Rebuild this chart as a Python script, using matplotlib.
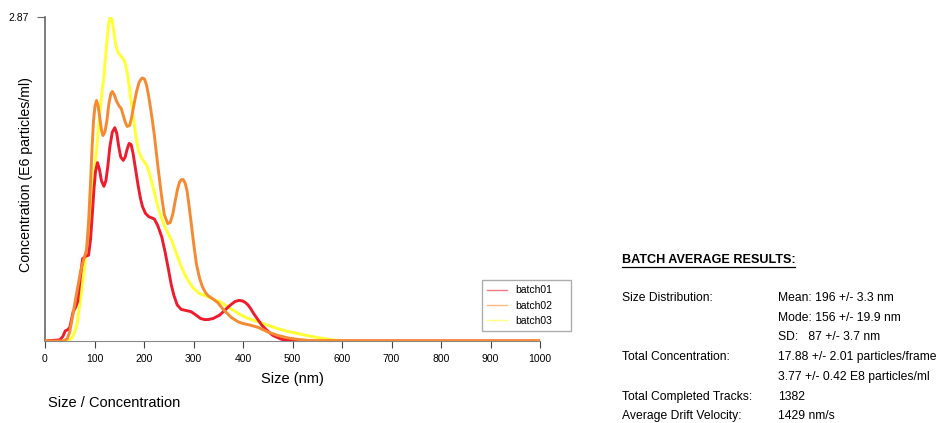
import matplotlib
matplotlib.use("Agg")
import matplotlib.pyplot as plt
from matplotlib.lines import Line2D

plt.rcParams['font.family'] = ['Liberation Sans', 'DejaVu Sans']

# size (nm) / concentration (E6 particles/ml)
size01 = [0, 30, 36, 41, 46, 50, 57, 62, 66, 71, 76, 82, 88, 92, 96, 99, 102, 106, 110, 114, 119, 123, 127, 131,
          136, 141, 145, 149, 153, 158, 162, 166, 170, 174, 178, 183, 188, 193, 197, 203, 210, 216, 221, 228, 236,
          243, 250, 255, 260, 267, 275, 285, 295, 305, 314, 322, 330, 340, 353, 365, 375, 384, 392, 399, 405, 410,
          415, 422, 430, 438, 447, 460, 478, 495, 509, 600, 1000]
conc01 = [0, 0.01, 0.04, 0.09, 0.10, 0.12, 0.26, 0.30, 0.35, 0.55, 0.73, 0.75, 0.76, 0.90, 1.15, 1.35, 1.50,
          1.58, 1.52, 1.42, 1.37, 1.42, 1.55, 1.72, 1.85, 1.89, 1.84, 1.72, 1.63, 1.60, 1.63, 1.70, 1.75, 1.74,
          1.66, 1.52, 1.38, 1.26, 1.19, 1.13, 1.10, 1.09, 1.08, 1.02, 0.92, 0.78, 0.62, 0.50, 0.41, 0.32, 0.28,
          0.27, 0.26, 0.23, 0.20, 0.19, 0.19, 0.20, 0.23, 0.28, 0.32, 0.35, 0.36, 0.355, 0.34, 0.32, 0.29, 0.24,
          0.19, 0.14, 0.10, 0.05, 0.015, 0.004, 0.0, 0, 0]

size02 = [0, 37, 45, 50, 57, 65, 72, 78, 84, 88, 92, 95, 98, 101, 104, 107, 110, 114, 117, 121, 125, 129, 133,
          136, 140, 145, 150, 154, 158, 162, 166, 171, 175, 180, 185, 190, 194, 197, 201, 205, 209, 213, 217, 221,
          228, 235, 241, 248, 253, 258, 263, 268, 272, 276, 279, 283, 287, 291, 296, 301, 306, 312, 318, 324, 330,
          340, 349, 360, 376, 390, 400, 415, 431, 450, 470, 490, 509, 530, 560, 1000]
conc02 = [0, 0.0, 0.02, 0.08, 0.25, 0.45, 0.62, 0.72, 0.81, 1.05, 1.40, 1.70, 1.95, 2.08, 2.13, 2.09, 2.00,
          1.87, 1.82, 1.85, 1.95, 2.10, 2.19, 2.21, 2.18, 2.12, 2.08, 2.06, 2.00, 1.94, 1.90, 1.91, 1.98, 2.10,
          2.21, 2.29, 2.32, 2.33, 2.32, 2.27, 2.18, 2.07, 1.95, 1.82, 1.55, 1.30, 1.12, 1.04, 1.05, 1.12, 1.24,
          1.35, 1.41, 1.43, 1.43, 1.40, 1.33, 1.20, 1.02, 0.84, 0.68, 0.56, 0.48, 0.43, 0.40, 0.37, 0.34, 0.28,
          0.21, 0.17, 0.155, 0.14, 0.12, 0.08, 0.05, 0.028, 0.015, 0.006, 0, 0]

size03 = [0, 45, 50, 55, 60, 65, 72, 80, 86, 92, 98, 104, 110, 115, 119, 123, 126, 129, 131, 133, 135, 137, 140,
          143, 147, 152, 158, 162, 166, 170, 174, 179, 184, 189, 195, 200, 205, 212, 220, 228, 240, 256, 265, 275,
          287, 299, 312, 330, 345, 353, 370, 392, 410, 431, 450, 470, 490, 509, 530, 548, 575, 602, 1000]
conc03 = [0, 0.0, 0.01, 0.03, 0.08, 0.16, 0.38, 0.66, 0.90, 1.15, 1.42, 1.69, 1.98, 2.20, 2.34, 2.55, 2.70,
          2.82, 2.86, 2.87, 2.85, 2.80, 2.71, 2.62, 2.56, 2.53, 2.50, 2.46, 2.38, 2.26, 2.13, 1.96, 1.80, 1.68,
          1.62, 1.59, 1.56, 1.47, 1.33, 1.19, 1.03, 0.89, 0.78, 0.66, 0.55, 0.47, 0.42, 0.39, 0.36, 0.35, 0.30,
          0.24, 0.20, 0.17, 0.14, 0.11, 0.085, 0.068, 0.048, 0.032, 0.014, 0.0, 0]

labels = ['batch01', 'batch02', 'batch03']
colors = ['#ee1c2e', '#f58a32', '#ffff33']
xticks = list(range(0, 1001, 100))
ymax = 2.87

fig = plt.figure(figsize=(9.44, 4.23), dpi=100)
ax = fig.add_axes([45 / 944, 1 - 341 / 423, 495 / 944, 324 / 423])

ax.plot(size03, conc03, color=colors[2], lw=2.1, solid_joinstyle='round', zorder=3)
ax.plot(size01, conc01, color=colors[0], lw=2.1, solid_joinstyle='round', zorder=4)
ax.plot(size02, conc02, color=colors[1], lw=2.1, solid_joinstyle='round', zorder=5)

ax.set_xlim(0, 1000)
ax.set_ylim(0, ymax)
for s in ['top', 'right']:
    ax.spines[s].set_visible(False)
ax.spines['left'].set_color('#666666')
ax.spines['bottom'].set_color('#888888')
ax.spines['left'].set_linewidth(1.2)
ax.set_xticks(xticks)
ax.set_xticklabels([str(t) for t in xticks], fontsize=7.5)
ax.set_yticks([ymax])
ax.set_yticklabels(['2.87'], fontsize=7.5)
ax.tick_params(axis='x', length=5, color='#444444', pad=4)
ax.tick_params(axis='y', length=6, color='#666666', pad=6)
ax.set_xlabel('Size (nm)', fontsize=10.5, labelpad=6)
ax.set_ylabel('Concentration (E6 particles/ml)', fontsize=10.2)
ax.yaxis.set_label_coords(-12 / 495, 166 / 324)

handles = [Line2D([], [], color=c, lw=1, alpha=0.6) for c in colors]
leg = ax.legend(handles, labels, loc='lower left', bbox_to_anchor=(437 / 495, 10 / 324, 89 / 495, 55 / 324),
                mode='expand', fontsize=7.5, frameon=True, fancybox=False, handlelength=1.9,
                handletextpad=0.8, labelspacing=0.5, borderpad=0.5, borderaxespad=0)
leg.get_frame().set_edgecolor('#999999')
leg.get_frame().set_linewidth(1)

fig.text(48 / 944, 1 - 403 / 423, 'Size / Concentration', fontsize=10.5, va='center')

fs = 8.7
fig.text(622 / 944, 1 - 260 / 423, 'BATCH AVERAGE RESULTS:', fontsize=9.1, fontweight='bold', va='center')
fig.add_artist(Line2D([622 / 944, 795 / 944], [1 - 267 / 423] * 2, color='black', lw=0.9))

rows = [
    ('Size Distribution:', 'Mean: 196 +/- 3.3 nm'),
    ('', 'Mode: 156 +/- 19.9 nm'),
    ('', 'SD:   87 +/- 3.7 nm'),
    ('Total Concentration:', '17.88 +/- 2.01 particles/frame'),
    ('', '3.77 +/- 0.42 E8 particles/ml'),
    ('Total Completed Tracks:', '1382'),
    ('Average Drift Velocity:', '1429 nm/s'),
]
for i, (k, v) in enumerate(rows):
    y = 1 - (298 + i * 19.7) / 423
    if k:
        fig.text(622 / 944, y, k, fontsize=fs, va='center')
    fig.text(778 / 944, y, v, fontsize=fs, va='center')

fig.savefig('out.png', dpi=100)
